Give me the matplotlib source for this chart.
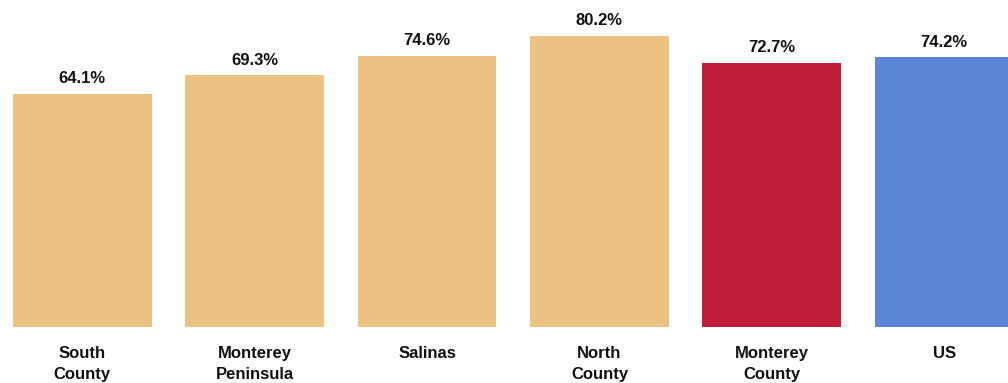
import matplotlib.pyplot as plt

plt.rcParams['font.family'] = ['Liberation Sans', 'DejaVu Sans']

regions = ["South\nCounty", "Monterey\nPeninsula", "Salinas", "North\nCounty", "Monterey\nCounty", "US"]
values = [64.1, 69.3, 74.6, 80.2, 72.7, 74.2]
colors = ["#ECC283", "#ECC283", "#ECC283", "#ECC283", "#BE1E3A", "#5B86D8"]

fig = plt.figure(figsize=(10.08, 3.83), dpi=100)
# axes placed by pixel: bars start at x=13, baseline at y=327
ax = fig.add_axes([13 / 1008, 56 / 383, 1000.6 / 1008, 327 / 383])

x = range(len(values))
bars = ax.bar(x, values, width=0.805, color=colors)

for b, v in zip(bars, values):
    ax.annotate(f"{v:.1f}%", (b.get_x() + b.get_width() / 2, v), xytext=(0, 5.5),
                textcoords='offset points', ha='center', va='bottom',
                fontsize=12, fontweight='bold', color='#111111')

ax.set_xlim(-0.4025, 5.4025)
ax.set_ylim(0, 90)
ax.set_xticks(list(x))
ax.set_xticklabels(regions, fontsize=12, fontweight='bold', color='#111111', linespacing=1.45)
ax.tick_params(axis='x', length=0, pad=14)
ax.set_yticks([])
for s in ax.spines.values():
    s.set_visible(False)

fig.savefig("out.png", dpi=100)
